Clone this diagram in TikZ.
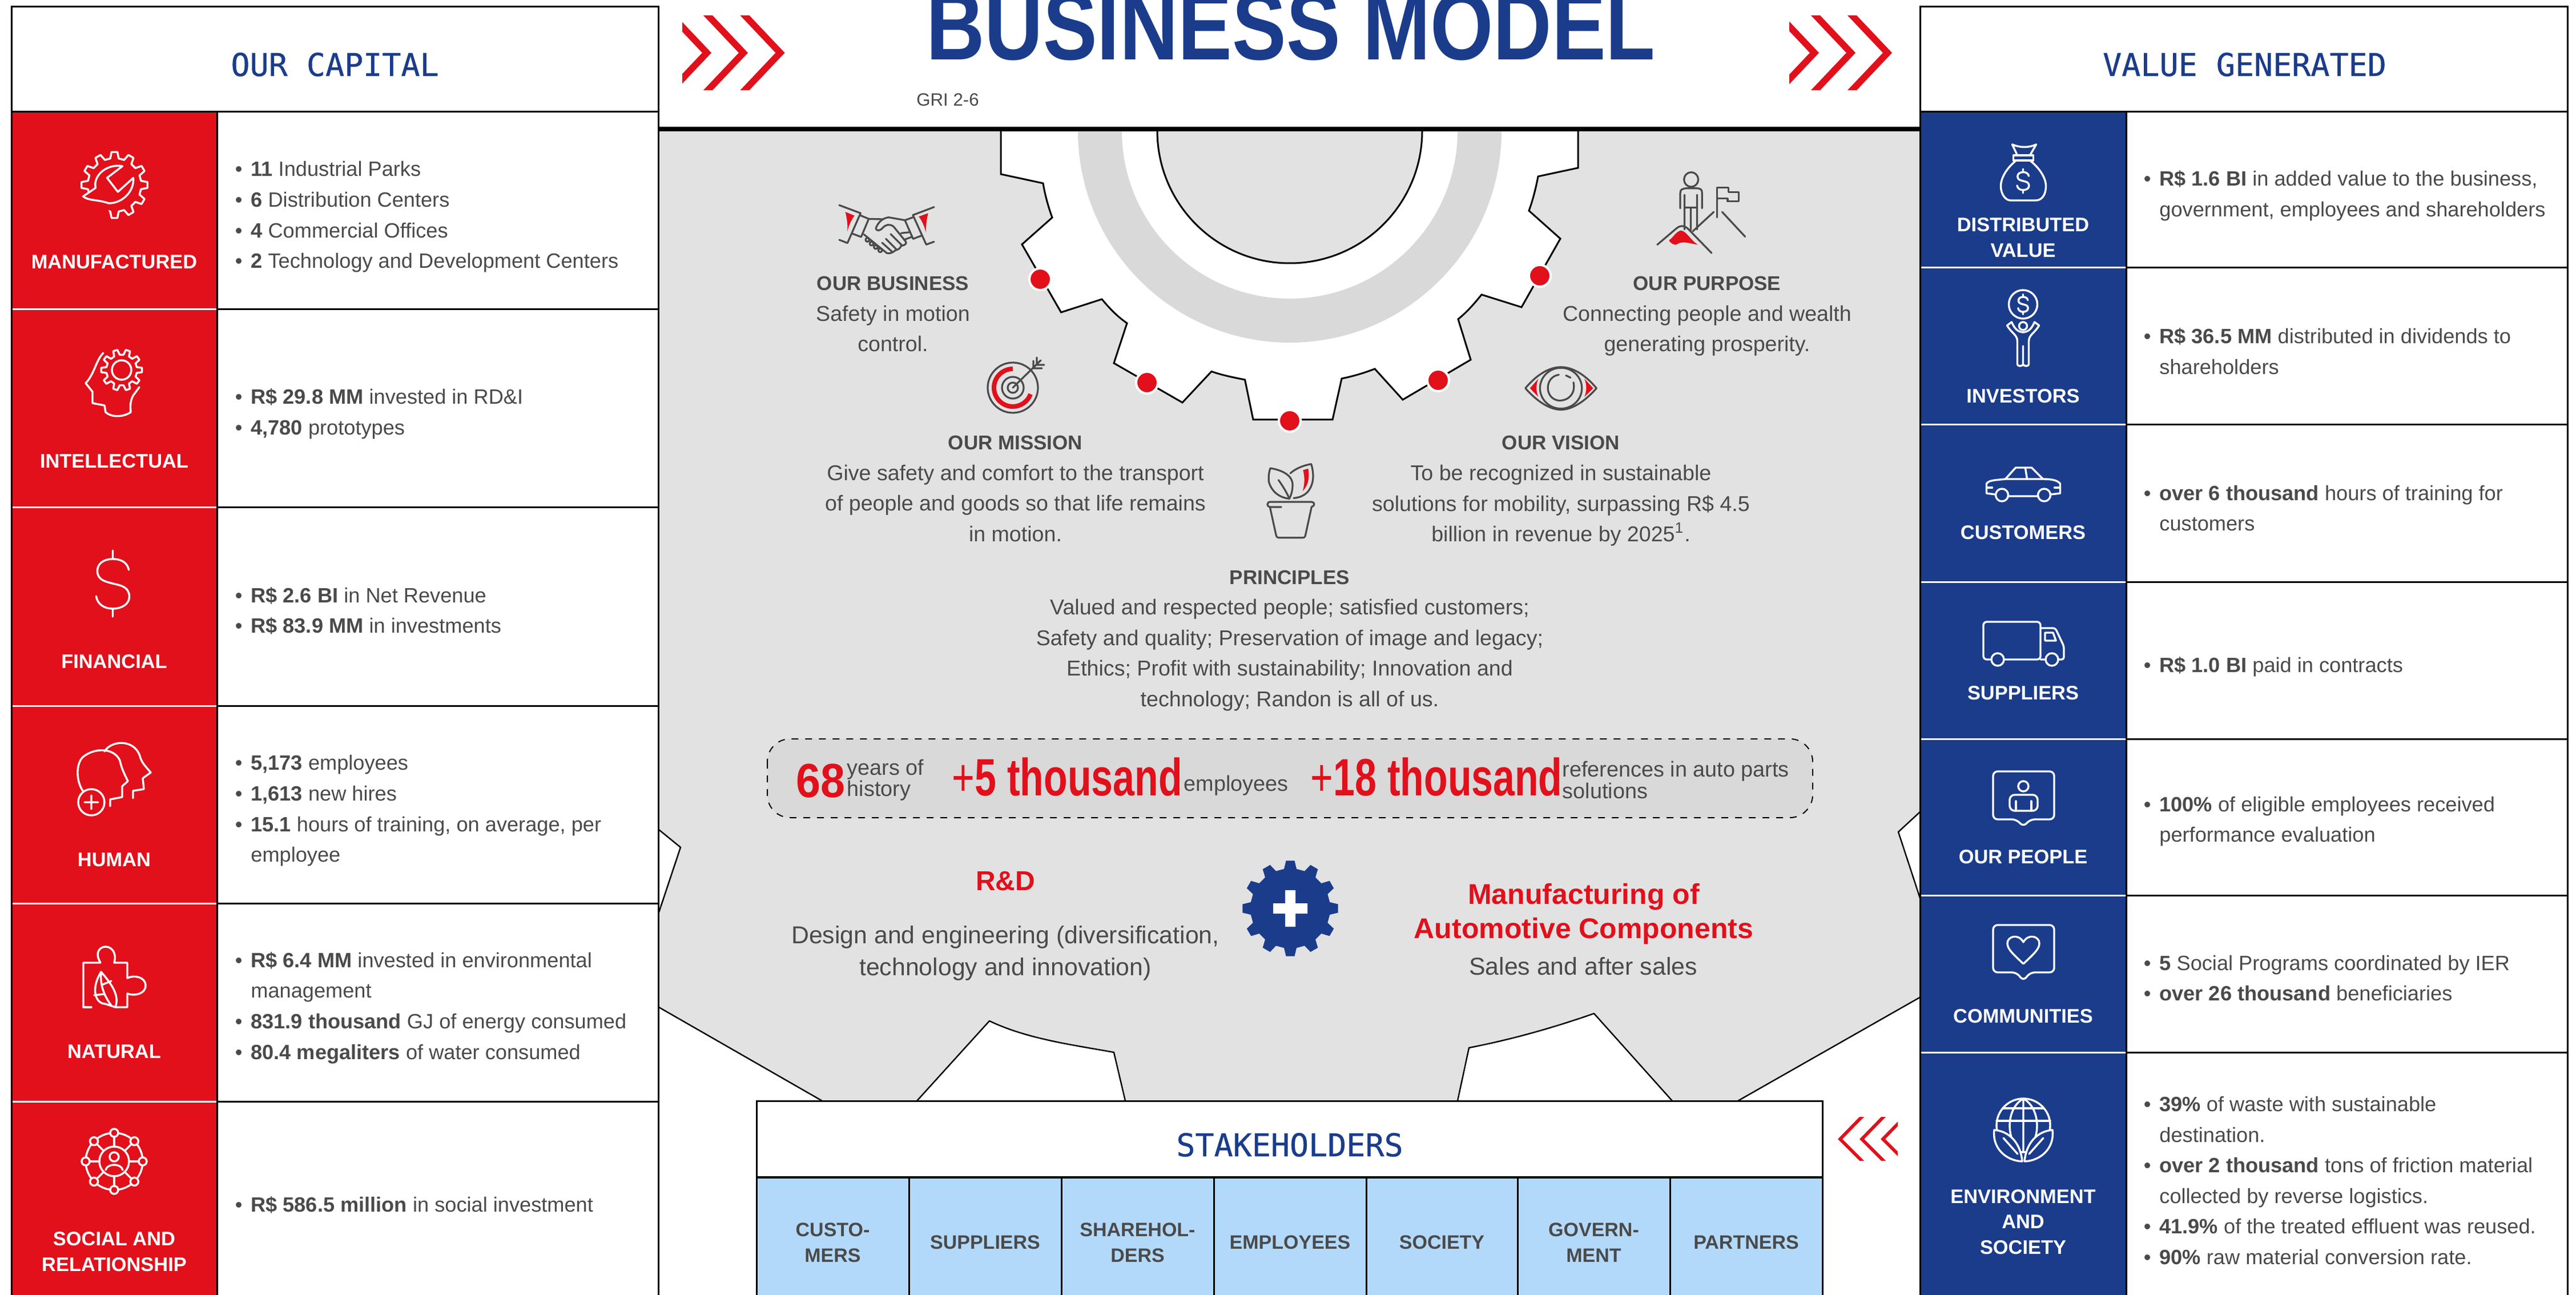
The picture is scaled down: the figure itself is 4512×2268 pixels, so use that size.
\documentclass[tikz,border=0pt]{standalone}
\usepackage{fontspec}
\setmainfont{Liberation Sans}
\newfontfamily\titlef[FakeStretch=.835]{Liberation Sans}
\newfontfamily\statf[FakeStretch=.74]{Liberation Sans}
\newfontfamily\statg[FakeStretch=.92]{Liberation Sans}
\newfontfamily\monof[FakeBold=.6]{DejaVu Sans Mono}
\definecolor{rd}{HTML}{E1101B}
\definecolor{bl}{HTML}{1A3C8B}
\definecolor{gp}{HTML}{E2E2E2}
\definecolor{rg}{HTML}{D9D9D9}
\definecolor{lb}{HTML}{B3D9FA}
\definecolor{tx}{HTML}{4A4A4A}
\newcommand\bi{\makebox[6.9pt][l]{•}}
\newcommand\ct{\hspace*{6.9pt}}
\newcommand\ttl[1]{{\bfseries\fontsize{8.75}{13.4}\selectfont #1}}
\newcommand\gearp[3]{({.3*360/#1}:#2) \foreach \ii in {1,...,#1}{ -- ({(\ii-.3)*360/#1}:#2) -- ({(\ii-.17)*360/#1}:#3) -- ({(\ii+.17)*360/#1}:#3) -- ({(\ii+.3)*360/#1}:#2)}}
\newcommand\dollarpath{(28,-24) .. controls (25,-40) and (10,-43) .. (0,-43) .. controls (-16,-43) and (-27,-35) .. (-27,-22) .. controls (-27,-5) and (-10,-3) .. (0,0) .. controls (14,3) and (29,6) .. (29,23) .. controls (29,36) and (16,44) .. (0,44) .. controls (-14,44) and (-27,37) .. (-29,22) (0,-58) -- (0,-43) (0,44) -- (0,58)}
\newcommand\chevr[1]{\fill[rd] ({#1-78},27) -- ({#1-62},27) -- (#1,92.5) -- ({#1-62},158) -- ({#1-78},158) -- ({#1-16},92.5) -- cycle;}
\newcommand\chevl[1]{\fill[rd] ({#1+38},1956) -- ({#1+46},1956) -- ({#1+8},1995) -- ({#1+46},2033) -- ({#1+38},2033) -- (#1,1995) -- cycle;}
\tikzset{
 ic/.style={draw=white,line width=.85pt,line cap=round,line join=round},
 gi/.style={draw=tx,line width=.8pt,line cap=round,line join=round},
 tbl/.style={draw=black,line width=.75pt},
 sep/.style={draw=white,line width=.75pt},
 capl/.style={inner sep=0pt,text=white,align=center,font=\fontsize{8.6}{11.1}\selectfont\bfseries},
 hdr/.style={inner sep=0pt,text=bl,font=\fontsize{13.75}{16}\selectfont\monof},
 lst/.style={inner sep=0pt,anchor=west,align=left,text=tx,font=\fontsize{9.05}{13.4}\selectfont},
 mid/.style={inner sep=0pt,align=center,text=tx,font=\fontsize{9.4}{13.4}\selectfont},
 sth/.style={inner sep=0pt,align=center,text=tx,font=\fontsize{8.5}{11.2}\selectfont\bfseries},
 big/.style={inner sep=0pt,anchor=west,text=rd,font=\fontsize{23}{26}\selectfont\statf\bfseries},
 sml/.style={inner sep=0pt,anchor=west,align=left,text=tx,font=\fontsize{9.45}{9.3}\selectfont},
 rhd/.style={inner sep=0pt,align=center,text=rd,font=\fontsize{12}{15}\selectfont\bfseries},
 des/.style={inner sep=0pt,align=center,text=tx,font=\fontsize{10.7}{14}\selectfont},
}
\begin{document}
\begin{tikzpicture}[x=.25pt,y=-.25pt]
\useasboundingbox (0,0) rectangle (4512,2268);
\fill[white] (0,0) rectangle (4512,2268);
% central panel
\fill[gp] (1153,226) rectangle (3363,1928);
\fill[white] (1154,1453) -- (1192,1484) -- (1154,1598) -- cycle;
\draw[black,line width=.6pt] (1154,1453) -- (1192,1484) -- (1154,1598);
\fill[white] (1154,1764) -- (1440,1928) -- (1154,1928) -- cycle;
\draw[black,line width=.6pt] (1154,1764) -- (1440,1928);
\fill[white] (1606,1928) -- (1733,1788) .. controls (1800,1820) and (1880,1830) .. (1951,1843) -- (1971,1928) -- cycle;
\draw[black,line width=.6pt] (1606,1928) -- (1733,1788) .. controls (1800,1820) and (1880,1830) .. (1951,1843) -- (1971,1928);
\fill[white] (2553,1928) -- (2573,1835) .. controls (2650,1820) and (2720,1800) .. (2792,1775) -- (2929,1928) -- cycle;
\draw[black,line width=.6pt] (2553,1928) -- (2573,1835) .. controls (2650,1820) and (2720,1800) .. (2792,1775) -- (2929,1928);
\fill[white] (3044,1928) -- (3364,1746) -- (3364,1928) -- cycle;
\draw[black,line width=.6pt] (3044,1928) -- (3364,1746);
\fill[white] (3364,1421) -- (3325,1457) -- (3364,1576) -- cycle;
\draw[black,line width=.6pt] (3364,1421) -- (3325,1457) -- (3364,1576);
% upper gear
\filldraw[fill=white,draw=black,line width=.75pt] (1753,226) -- (1753,305) -- (1827,321) .. controls (1830,340) and (1836,362) .. (1843,381) -- (1790,428) -- (1858.5,547) -- (1930,524) .. controls (1945,542) and (1958,555) .. (1974,566) -- (1951,636) -- (2071,705) -- (2122,650.5) .. controls (2140,657) and (2160,661) .. (2180.5,665) -- (2195,735) -- (2334,735) -- (2350,663) .. controls (2370,659) and (2390,653) .. (2408,646) -- (2457,700) -- (2576,630) -- (2554,559) .. controls (2570,546) and (2583,531) .. (2595,516) -- (2665,538) -- (2733,418) -- (2678,369) .. controls (2685,350) and (2690,330) .. (2694,309) -- (2764,294) -- (2764,226);
\begin{scope}
\clip (1700,226) rectangle (2800,800);
\fill[rg,even odd rule] (2259,229) circle (371) (2259,229) circle (294);
\filldraw[fill=gp,draw=black,line width=.75pt] (2259,229) circle (232);
\end{scope}
\foreach \p/\q in {1822/489,2009/670,2259/737,2519/666,2697/483}
  \filldraw[fill=rd,draw=white,line width=1pt] (\p,\q) circle (19);
\draw[black,line width=2pt] (1153,226) -- (3363,226);
% top chevrons
\begin{scope}\clip (1195,0) rectangle (1400,200); \chevr{1246}\chevr{1310}\chevr{1374.5}\end{scope}
\begin{scope}\clip (3134,0) rectangle (3340,200); \chevr{3186}\chevr{3250}\chevr{3314}\end{scope}
\begin{scope}\clip (3200,1940) rectangle (3324,2050); \chevl{3219}\chevl{3257}\chevl{3294}\end{scope}
\node[inner sep=0pt,text=bl,font=\fontsize{42.5}{50}\selectfont\titlef\bfseries,anchor=base] (title) at (2261,105) {BUSINESS MODEL};
\node[inner sep=0pt,text=tx,font=\fontsize{7.8}{10}\selectfont] (gri) at (1660,175) {GRI 2-6};
% left table
\fill[rd] (20.7,196) rectangle (380,2268);
\draw[tbl] (20.7,2268) -- (20.7,12) -- (1153,12) -- (1153,2268);
\draw[tbl] (20.7,196) -- (1153,196);
\draw[tbl] (380,196) -- (380,2268);
\foreach \yy in {542,888,1236,1582,1929} {\draw[tbl] (380,\yy) -- (1153,\yy); \draw[sep] (22,\yy) -- (379,\yy);}
\node[hdr] (capital) at (586.6,113) {OUR CAPITAL};
\node[capl] (c1) at (200,459) {MANUFACTURED};
\node[capl] (c2) at (200,808) {INTELLECTUAL};
\node[capl] (c3) at (200,1159) {FINANCIAL};
\node[capl] (c4) at (200,1506) {HUMAN};
\node[capl] (c5) at (200,1842) {NATURAL};
\node[capl] (c6) at (200,2192) {SOCIAL AND\\RELATIONSHIP};
\node[lst] (l1) at (411,380) {\bi\textbf{11} Industrial Parks\\\bi\textbf{6} Distribution Centers\\\bi\textbf{4} Commercial Offices\\\bi\textbf{2} Technology and Development Centers};
\node[lst] (l2) at (411,725) {\bi\textbf{R\$ 29.8 MM} invested in RD\&I\\\bi\textbf{4,780} prototypes};
\node[lst] (l3) at (411,1070) {\bi\textbf{R\$ 2.6 BI} in Net Revenue\\\bi\textbf{R\$ 83.9 MM} in investments};
\node[lst] (l4) at (411,1420) {\bi\textbf{5,173} employees\\\bi\textbf{1,613} new hires\\\bi\textbf{15.1} hours of training, on average, per\\\ct employee};
\node[lst] (l5) at (411,1765) {\bi\textbf{R\$ 6.4 MM} invested in environmental\\\ct management\\\bi\textbf{831.9 thousand} GJ of energy consumed\\\bi\textbf{80.4 megaliters} of water consumed};
\node[lst] (l6) at (411,2110) {\bi\textbf{R\$ 586.5 million} in social investment};
% right table
\fill[bl] (3363,196) rectangle (3724,2268);
\draw[tbl] (3363,2268) -- (3363,12) -- (4497,12) -- (4497,2268);
\draw[tbl] (3363,196) -- (4497,196);
\draw[tbl] (3724,196) -- (3724,2268);
\foreach \yy in {469,744,1019,1294,1568.5,1843} {\draw[tbl] (3724,\yy) -- (4497,\yy); \draw[sep] (3365,\yy) -- (3723,\yy);}
\node[hdr] (value) at (3931.5,113) {VALUE GENERATED};
\node[capl] (v1) at (3543.5,416) {DISTRIBUTED\\VALUE};
\node[capl] (v2) at (3543.5,694) {INVESTORS};
\node[capl] (v3) at (3543.5,933) {CUSTOMERS};
\node[capl] (v4) at (3543.5,1214) {SUPPLIERS};
\node[capl] (v5) at (3543.5,1501) {OUR PEOPLE};
\node[capl] (v6) at (3543.5,1780) {COMMUNITIES};
\node[capl] (v7) at (3543.5,2140) {ENVIRONMENT\\AND\\SOCIETY};
\node[lst] (r1) at (3754,343) {\bi\textbf{R\$ 1.6 BI} in added value to the business,\\\ct government, employees and shareholders};
\node[lst] (r2) at (3754,615) {\bi\textbf{R\$ 36.5 MM} distributed in dividends to\\\ct shareholders};
\node[lst] (r3) at (3754,890) {\bi\textbf{over 6 thousand} hours of training for\\\ct customers};
\node[lst] (r4) at (3754,1168) {\bi\textbf{R\$ 1.0 BI} paid in contracts};
\node[lst] (r5) at (3754,1438.5) {\bi\textbf{100\%} of eligible employees received\\\ct performance evaluation};
\node[lst] (r6) at (3754,1713) {\bi\textbf{5} Social Programs coordinated by IER\\\bi\textbf{over 26 thousand} beneficiaries};
\node[lst] (r7) at (3754,2067.5) {\bi\textbf{39\%} of waste with sustainable\\\ct destination.\\\bi\textbf{over 2 thousand} tons of friction material\\\ct collected by reverse logistics.\\\bi\textbf{41.9\%} of the treated effluent was reused.\\\bi\textbf{90\%} raw material conversion rate.};
% center texts
\node[mid] (m1) at (1564,550) {\ttl{OUR BUSINESS}\\Safety in motion\\control.};
\node[mid] (m2) at (2990,554) {\ttl{OUR PURPOSE}\\Connecting people and wealth\\generating prosperity.};
\node[mid] (m3) at (1778.5,856) {\ttl{OUR MISSION}\\Give safety and comfort to the transport\\of people and goods so that life remains\\in motion.};
\node[mid] (m4) at (2734,860) {\ttl{OUR VISION}\\To be recognized in sustainable\\solutions for mobility, surpassing R\$ 4.5\\billion in revenue by 2025\textsuperscript{1}.};
\node[mid] (m5) at (2259,1122) {\ttl{PRINCIPLES}\\Valued and respected people; satisfied customers;\\Safety and quality; Preservation of image and legacy;\\Ethics; Profit with sustainability; Innovation and\\technology; Randon is all of us.};
% stats
\draw[black,dashed,fill=rg,line width=.5pt,rounded corners=10pt] (1344,1294) rectangle (3175,1432);
\node[big,font=\fontsize{21}{24}\selectfont\statg\bfseries] (s1) at (1394,1368) {68};
\node[sml] (s2) at (1483,1366) {years of\\history};
\node[big] (s3) at (1667,1361) {{\mdseries+}5 thousand};
\node[sml] (s4) at (2073,1376) {employees};
\node[big] (s5) at (2295,1361) {{\mdseries+}18 thousand};
\node[sml] (s6) at (2736,1366) {references in auto parts\\solutions};
\node[rhd] (rd) at (1761,1543) {R\&D};
\node[des] (rdd) at (1761,1669) {Design and engineering (diversification,\\technology and innovation)};
\node[rhd,font=\fontsize{12.5}{15}\selectfont\bfseries] (mf) at (2774,1601) {Manufacturing of\\Automotive Components};
\node[des] (mfd) at (2773,1692) {Sales and after sales};
% plus gear
\begin{scope}[shift={(2260,1591)}]
\fill[bl] \gearp{12}{70}{84} -- cycle;
\fill[white] (-30,-9) rectangle (30,9) (-9,-32) rectangle (9,32);
\end{scope}
% stakeholders
\fill[white] (1325,1928) rectangle (3192,2268);
\fill[lb] (1325,2062) rectangle (3192,2268);
\draw[tbl] (1325,2268) -- (1325,1928) -- (3192,1928) -- (3192,2268);
\draw[tbl,line width=1pt] (1325,2062) -- (3192,2062);
\foreach \xx in {1592,1859,2126,2393,2658,2925} \draw[tbl] (\xx,2062) -- (\xx,2268);
\node[hdr] (stake) at (2259,2005) {STAKEHOLDERS};
\node[sth] (t1) at (1458.5,2176) {CUSTO-\\MERS};
\node[sth] (t2) at (1725.5,2176) {SUPPLIERS};
\node[sth] (t3) at (1992.5,2176) {SHAREHOL-\\DERS};
\node[sth] (t4) at (2259.5,2176) {EMPLOYEES};
\node[sth] (t5) at (2525.5,2176) {SOCIETY};
\node[sth] (t6) at (2791.5,2176) {GOVERN-\\MENT};
\node[sth] (t7) at (3058.5,2176) {PARTNERS};
% ---- white icons left
\begin{scope}[shift={(200.5,324)}]
\draw[ic] \gearp{12}{47}{58} -- cycle;
\fill[rd] (-66,18) -- (-20,5) -- (-5,66) -- (-50,66) -- cycle;
\draw[ic] (14,-33) -- (-13,-12.5) -- (6,12) -- (33,-12.5) .. controls (35,10) and (15,32) .. (-10,32) (14,-33) .. controls (-15,-38) and (-38,-15) .. (-33,5) -- (-55,20) .. controls (-45,28) and (-30,25) .. (-10,32);
\end{scope}
\begin{scope}[shift={(213,648)}]
\draw[ic] \gearp{10}{27}{36} -- cycle;
\draw[ic] (0,0) circle (17);
\end{scope}
\begin{scope}[shift={(200,671)}]
\draw[ic] (-19,-53) .. controls (-32,-40) and (-35,-15) .. (-50,0) -- (-38,15) -- (-38,35) -- (-17,39) -- (-15,51) .. controls (-5,60) and (15,60) .. (29,51) .. controls (28,40) and (28,32) .. (33,22) -- (44,7);
\end{scope}
\draw[ic,shift={(197.5,1022)}] \dollarpath;
\begin{scope}[shift={(200,1364)}]
\draw[ic] (-17,-48) .. controls (-5,-68) and (35,-70) .. (45,-40) .. controls (48,-28) and (55,-22) .. (64,-11) -- (50,-1) -- (52,18) -- (33,21) -- (33,34);
\draw[ic] (-55,21) .. controls (-66,5) and (-68,-25) .. (-55,-38) .. controls (-35,-55) and (0,-55) .. (10,-32) .. controls (13,-18) and (18,-8) .. (24,4) -- (14,13) -- (14,32) -- (-7,36) -- (-7,48);
\draw[ic] (-40,41) circle (23) (-52,41) -- (-28,41) (-40,29) -- (-40,53);
\end{scope}
\begin{scope}[shift={(200,1713)}]
\draw[ic] (-54,51) -- (-54,-27) -- (-24,-27) .. controls (-35,-45) and (-25,-55) .. (-15,-55) .. controls (-5,-55) and (5,-45) .. (0,-27) -- (23,-27) -- (23,0) .. controls (35,-6) and (55,-2) .. (55,13) .. controls (55,28) and (35,32) .. (23,27) -- (23,51) -- (2,51);
\draw[ic] (-54,51) -- (-40,51);
\draw[ic] (-23,-11) .. controls (-5,10) and (10,30) .. (2,51) -- (-16,45) .. controls (-32,45) and (-42,20) .. (-23,-11) -- cycle;
\draw[ic] (-23,-8) .. controls (-25,15) and (-15,35) .. (-5,48) (-22,12) -- (-5,5) (-18,28) -- (-35,30);
\end{scope}
\begin{scope}[shift={(200,2034)}]
\draw[ic] (0,0) circle (26);
\foreach \aa in {0,45,...,315} {\draw[ic] (\aa:50) circle (7); \draw[ic] ({\aa+9}:50) arc ({\aa+9}:{\aa+36}:50); }
\foreach \aa in {0,45,...,315} \draw[ic] (\aa:43) -- (\aa:26);
\draw[ic] (0,-8) circle (8) (-15,15) .. controls (-12,3) and (12,3) .. (15,15);
\end{scope}
% ---- white icons right
\begin{scope}[shift={(3543.5,301)}]
\draw[ic] (-17,-29) rectangle (18,-20);
\draw[ic] (-10,-29) -- (-19,-48) .. controls (-5,-42) and (10,-42) .. (23,-48) -- (12,-29);
\draw[ic] (-12,-20) .. controls (-25,-10) and (-39,8) .. (-39,25) .. controls (-39,40) and (-30,50) .. (-22,50) -- (22,50) .. controls (33,50) and (40,40) .. (40,25) .. controls (40,8) and (25,-10) .. (12,-20);
\draw[ic,shift={(0,16)},scale=.36] \dollarpath;
\end{scope}
\begin{scope}[shift={(3543.5,576)}]
\draw[ic] (0,-43) circle (25);
\draw[ic,shift={(0,-43)},scale=.3] \dollarpath;
\draw[ic] (0,-5) circle (7);
\draw[ic] (-28,-6) .. controls (-20,8) and (-10,10) .. (-10,22) -- (-10,62) .. controls (-10,66) and (-1,66) .. (0,62) -- (0,30);
\draw[ic] (28,-6) .. controls (20,8) and (10,10) .. (10,22) -- (10,62) .. controls (10,66) and (1,66) .. (0,62);
\draw[ic] (-28,-6) -- (-20,-12) .. controls (-14,2) and (-8,5) .. (0,6) .. controls (8,5) and (14,2) .. (20,-12) -- (28,-6);
\end{scope}
\begin{scope}[shift={(3543.5,849)}]
\draw[ic] (-31,-10) -- (-13,-30) -- (15,-30) -- (35,-10) (4,-29) -- (7,-10);
\draw[ic] (-26,20) -- (26,20) (48,17) -- (65,15) -- (65,-2) .. controls (60,-8) and (50,-10) .. (35,-10) -- (-31,-10) .. controls (-50,-8) and (-60,-8) .. (-64,-2) -- (-64,15) -- (-48,17);
\draw[ic] (-64,5) -- (-54,5) (65,5) -- (55,5);
\draw[ic] (-37,18) circle (11) (37,18) circle (11);
\end{scope}
\draw[ic,rounded corners=1.5pt] (3488,1155) -- (3474,1155) -- (3474,1089) -- (3574,1089) -- (3574,1155) -- (3510,1155);
\draw[ic,rounded corners=1pt] (3574,1100) -- (3600,1100) -- (3615,1132) -- (3615,1155) -- (3605,1155) (3583,1155) -- (3574,1155);
\draw[ic] (3582,1108) -- (3596,1108) -- (3601,1122) -- (3582,1122) -- cycle;
\draw[ic] (3499,1155) circle (11) (3594,1155) circle (11);
\draw[ic,rounded corners=2pt] (3491,1351) -- (3598,1351) -- (3598,1435) -- (3556,1435) -- (3544,1448) -- (3532,1435) -- (3491,1435) -- cycle;
\draw[ic] (3544,1377) circle (9);
\draw[ic,rounded corners=2.2pt] (3520,1420) -- (3520,1392) -- (3569,1392) -- (3569,1420) -- cycle;
\draw[ic] (3531,1403) -- (3531,1420) (3558,1403) -- (3558,1420);
\draw[ic,rounded corners=2pt] (3491,1620) -- (3598,1620) -- (3598,1703) -- (3556,1703) -- (3544,1718) -- (3532,1703) -- (3491,1703) -- cycle;
\draw[ic] (3544,1688) .. controls (3525,1670) and (3516,1662) .. (3516,1652) .. controls (3516,1640) and (3535,1634) .. (3544,1650) .. controls (3553,1634) and (3572,1640) .. (3572,1652) .. controls (3572,1662) and (3563,1670) .. (3544,1688) -- cycle;
\begin{scope}[shift={(3544,1971)}]
\draw[ic] (0,0) circle (47);
\draw[ic] (0,-47) -- (0,45) (0,-47) .. controls (-30,-30) and (-30,20) .. (-10,40) (0,-47) .. controls (30,-30) and (30,20) .. (10,40);
\draw[ic] (-36,-30) -- (36,-30) (-47,-8) -- (47,-8);
\filldraw[fill=bl,ic] (-2,63) .. controls (-30,62) and (-55,40) .. (-51,8) .. controls (-25,10) and (-5,30) .. (-2,63);
\filldraw[fill=bl,ic] (2,63) .. controls (30,62) and (55,40) .. (51,8) .. controls (25,10) and (5,30) .. (2,63);
\draw[ic] (-35,22) -- (-10,50) (35,22) -- (10,50);
\end{scope}
% ---- grey icons in the panel
\begin{scope}[shift={(1450,340)},scale=1/3]
\draw[gi] (60,58) -- (172,100) -- (103,257) -- (60,240);
\draw[gi] (172,112) -- (215,130) -- (175,225) -- (130,208);
\draw[gi] (558,68) -- (447,110) -- (517,265) -- (558,250);
\draw[gi] (447,122) -- (405,137) -- (448,235) -- (495,217);
\fill[rd] (92,93) -- (140,113) .. controls (120,140) and (108,170) .. (103,197) .. controls (105,160) and (100,125) .. (92,93) -- cycle;
\fill[rd] (527,100) -- (478,118) .. controls (495,140) and (508,170) .. (515,202) .. controls (515,160) and (520,130) .. (527,100) -- cycle;
\draw[gi] (215,130) -- (290,132);
\draw[gi] (405,137) -- (320,122) .. controls (290,125) and (265,145) .. (252,180) .. controls (255,195) and (275,195) .. (290,175) .. controls (305,160) and (325,155) .. (345,170) -- (410,250) .. controls (415,262) and (405,268) .. (385,272) .. controls (380,285) and (370,292) .. (355,295) .. controls (345,305) and (325,315) .. (310,310) -- (190,212);
\draw[gi] (330,210) -- (390,270) (305,235) -- (360,290) (285,255) -- (335,300);
\draw[gi] (385,205) -- (430,200) (400,240) -- (440,225);
\draw[gi] (208,240) circle (10) (230,260) circle (10) (252,278) circle (10) (275,295) circle (10);
\end{scope}
\draw[gi] (1774,679) circle (44) (1774,679) circle (19) (1774,679) circle (9);
\draw[rd,line width=2pt] (1774,646) arc (-90:-180:33) arc (-180:-340:33);
\draw[gi] (1774,679) -- (1823,631) (1810,632) -- (1810,645) -- (1825,645) (1816,626) -- (1816,639) -- (1829,639);
\begin{scope}[shift={(2250,0)},xscale=.7334,yscale=.6378]
\draw[gi] (971,493) circle [x radius=17,y radius=20];
\draw[gi] (945,572) -- (945,530) .. controls (945,520) and (950,518) .. (960,517) -- (985,517) .. controls (995,518) and (997,522) .. (997,530) -- (997,572) (955,535) -- (955,630) (985,535) -- (985,630) (970,570) -- (970,632) (955,570) -- (985,570);
\draw[gi] (890,672) -- (935,628) .. controls (945,618) and (955,618) .. (965,630) -- (1020,695);
\draw[gi] (975,635) -- (1025,582) (1045,582) -- (1100,650);
\draw[gi] (1033,597) -- (1033,515) -- (1060,515) -- (1060,527) -- (1085,527) -- (1085,553) -- (1058,553) -- (1058,545) -- (1033,545);
\fill[rd] (918,660) .. controls (930,650) and (935,635) .. (947,633) .. controls (960,635) and (970,660) .. (987,672) .. controls (965,668) and (950,660) .. (935,672) .. controls (928,672) and (922,668) .. (918,660) -- cycle;
\draw[gi] (575,1066) .. controls (605,1025) and (635,1008) .. (660,1008) .. controls (685,1008) and (715,1025) .. (745,1066) .. controls (715,1105) and (685,1125) .. (660,1125) .. controls (635,1125) and (605,1105) .. (575,1066) -- cycle;
\draw[gi] (660,1066) circle [x radius=50,y radius=56];
\draw[gi] (655,1029) .. controls (620,1035) and (620,1095) .. (655,1100) .. controls (680,1100) and (695,1080) .. (690,1050) (672,1031) -- (683,1037);
\fill[rd] (606,1040) -- (586,1066) -- (606,1090) .. controls (600,1075) and (600,1055) .. (606,1040) -- cycle;
\fill[rd] (716,1040) -- (737,1066) -- (716,1090) .. controls (722,1075) and (722,1055) .. (716,1040) -- cycle;
\end{scope}
\begin{scope}[shift={(2190,790)},scale=1/3]
\draw[gi] (105,90) .. controls (170,100) and (225,130) .. (222,180) .. controls (222,215) and (210,240) .. (205,250) .. controls (150,245) and (110,210) .. (97,160) .. controls (95,130) and (98,110) .. (105,90) -- cycle;
\draw[gi] (148,152) .. controls (175,190) and (195,225) .. (205,250);
\draw[gi] (210,117) .. controls (240,90) and (280,75) .. (320,68) .. controls (335,120) and (335,170) .. (305,210) .. controls (285,235) and (255,245) .. (228,247);
\fill[rd] (277,100) -- (304,92) .. controls (312,140) and (305,180) .. (275,210) .. controls (288,170) and (285,130) .. (277,100) -- cycle;
\draw[gi] (163,294) -- (103,294) .. controls (85,292) and (85,267) .. (105,267) -- (322,267) .. controls (340,267) and (340,290) .. (322,293);
\draw[gi] (103,294) -- (135,440) .. controls (138,452) and (142,455) .. (148,455) -- (275,455) .. controls (285,455) and (288,450) .. (290,440) -- (322,293);
\end{scope}
\end{tikzpicture}
\end{document}
